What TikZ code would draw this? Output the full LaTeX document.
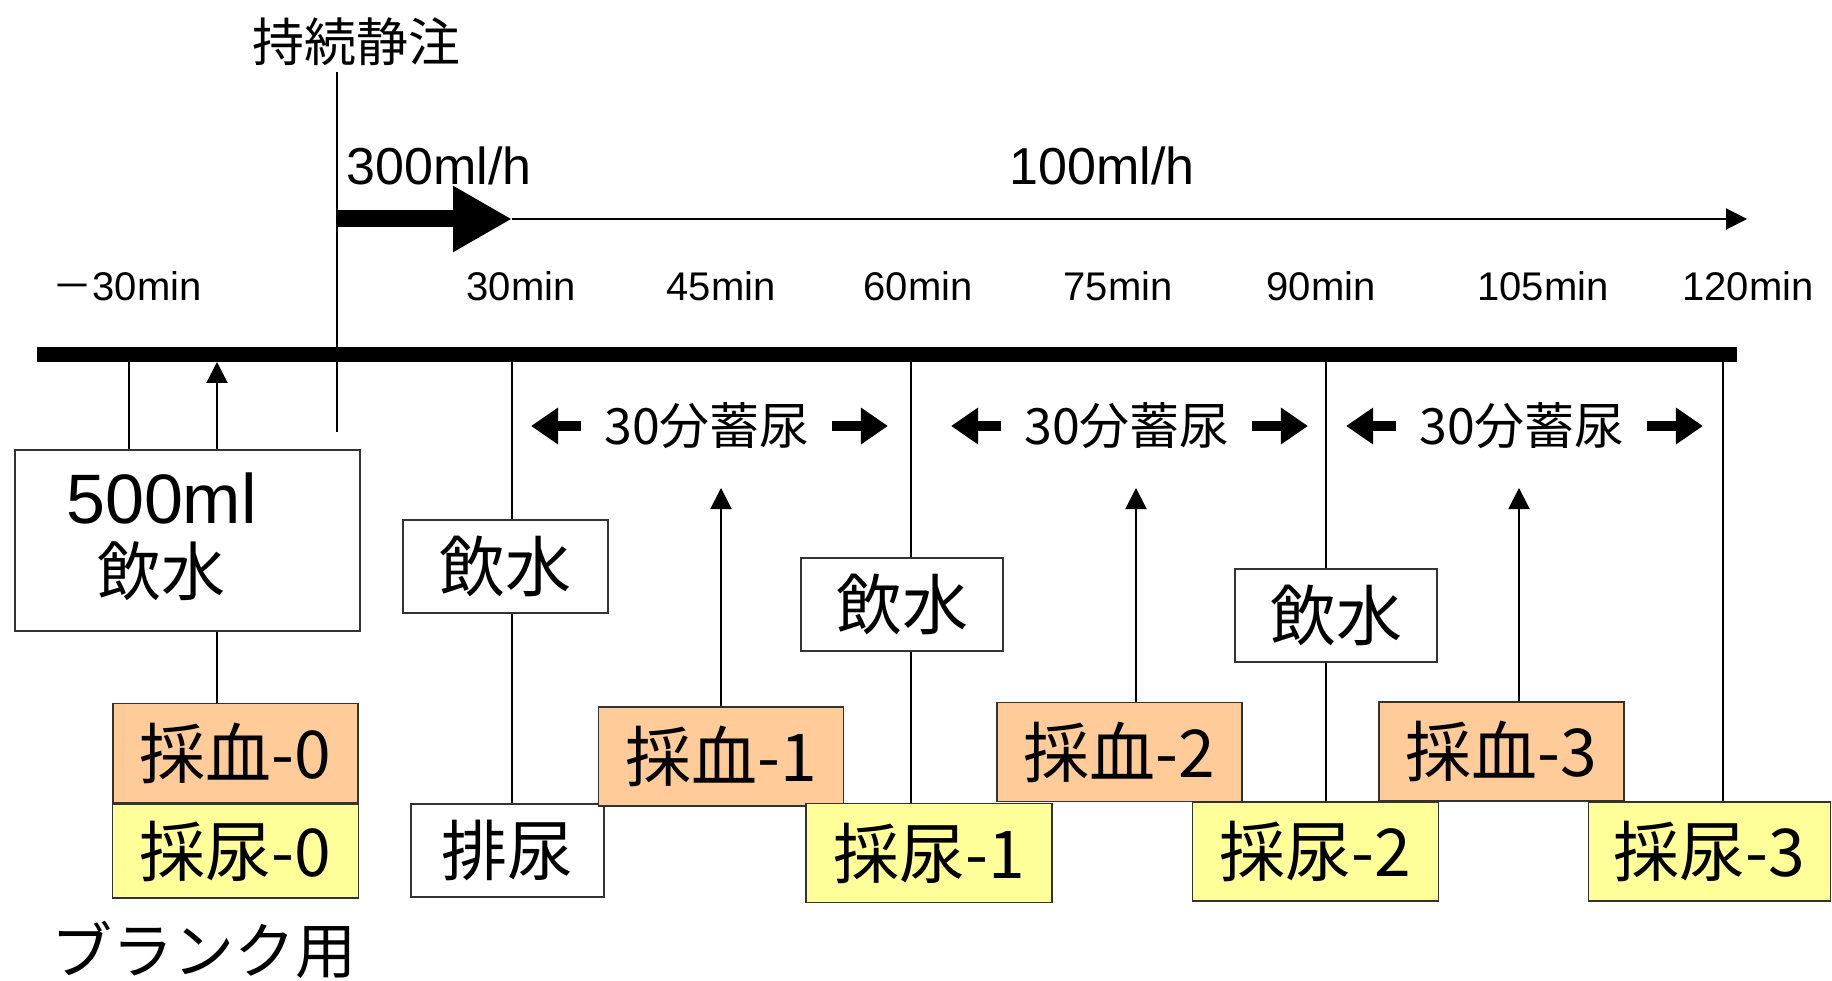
\documentclass[tikz,border=0pt]{standalone}
\usepackage{fontspec}
\setmainfont{Liberation Sans}
\newfontfamily\cjk{Noto Sans CJK JP}
\usetikzlibrary{arrows.meta,positioning}
\definecolor{ketsucol}{HTML}{FFCC99}
\definecolor{nyocol}{HTML}{FFFF99}
\tikzset{>={Triangle[length=21pt,width=21pt]},
  box/.style={draw=black!80, line width=1.8pt, fill=white, inner sep=0pt,
    minimum width=204pt, minimum height=93pt, font=\cjk\fontsize{66}{69}\selectfont},
  ketsu/.style={box, fill=ketsucol, minimum width=245pt, minimum height=99pt},
  nyo/.style={box, fill=nyocol, minimum width=246pt, minimum height=99pt},
  tline/.style={line width=2pt},
  blockarr/.style={line width=10pt, -{Triangle[length=27pt,width=35pt]}},
  tlabel/.style={font=\fontsize{40}{48}\selectfont},
  chiku/.style={inner sep=0pt, font=\cjk\fontsize{50}{60}\selectfont}}

\begin{document}
\begin{tikzpicture}[x=1pt,y=-1pt]
\useasboundingbox (0,0) rectangle (1832,981);
% time axis
\draw[line width=15pt] (37,355) -- (1737,355);
\node[tlabel] (tm30) at (127,286) {{\cjk －}30min};
\foreach \x/\t in {521/30min, 721/45min, 918/60min, 1118/75min, 1321/90min, 1543/105min, 1748/120min}
  \node[tlabel] at (\x,286) {\t};
\coordinate (b0) at (128.5,362);
\coordinate (a0) at (217,362);
\coordinate (t30) at (512,362);
\coordinate (t60) at (911,362);
\coordinate (t90) at (1326,362);
\coordinate (t120) at (1723,362);

% infusion
\node[font=\cjk\fontsize{52}{60}\selectfont] (jizoku) at (356,42) {持続静注};
\coordinate (injtop) at (336.5,72);
\coordinate (injbot) at (336.5,432);
\draw[tline] (injtop) -- (injbot);
\node[anchor=west, font=\fontsize{52}{60}\selectfont] (r300) at (343,166) {300ml/h};
\node[anchor=west, font=\fontsize{52}{60}\selectfont] (r100) at (1006,166) {100ml/h};
\draw[line width=17pt, -{Triangle[length=59pt,width=62pt]}] (injtop |- 0,219) -- (512,219) coordinate (inj30);
\draw[tline, ->] (inj30) -- (1747,219);

% boxes
\node[box, minimum width=345pt, minimum height=181pt] (mizu0) at (187.5,540.5) {};
\node[align=center, font=\cjk\fontsize{64}{72}\selectfont] (mizu0txt) at ([xshift=-26pt,yshift=4pt]mizu0.center)
  {{\rmfamily\fontsize{70}{72}\selectfont 500ml}\\飲水};
\node[ketsu] (ketsu0) at (235.5,753) {採血-0};
\node[nyo, minimum height=94pt, below=0pt of ketsu0] (nyo0) {採尿-0};
\node[font=\cjk\fontsize{61}{66}\selectfont] (blank) at (204,950) {ブランク用};
\node[box, minimum width=205pt] (mizu1) at (505.5,566.5) {飲水};
\node[box, minimum width=193pt] (hainyo) at (507.5,850.5) {排尿};
\node[ketsu] (ketsu1) at (721,756.5) {採血-1};
\node[box, minimum width=202pt] (mizu2) at (902,604.5) {飲水};
\node[nyo] (nyo1) at (929,853) {採尿-1};
\node[ketsu] (ketsu2) at (1119.5,752) {採血-2};
\node[box, minimum width=202pt] (mizu3) at (1336,615.5) {飲水};
\node[nyo] (nyo2) at (1315.5,851.5) {採尿-2};
\node[ketsu] (ketsu3) at (1501.5,751.5) {採血-3};
\node[nyo, minimum width=242pt] (nyo3) at (1709.5,851.5) {採尿-3};

% 30 min collection
\node[chiku] (chiku1) at (707,426) {30分蓄尿};
\node[chiku] (chiku2) at (1127,426) {30分蓄尿};
\node[chiku] (chiku3) at (1522,426) {30分蓄尿};
\foreach \n in {chiku1,chiku2,chiku3} {
  \draw[blockarr] ([xshift=-23pt]\n.west) -- ++(-50,0);
  \draw[blockarr] ([xshift=22pt]\n.east) -- ++(56,0);
}

% connectors
\draw[tline] (b0) -- (b0 |- mizu0.north);
\draw[tline, <-] (a0) -- (a0 |- mizu0.north);
\draw[tline] (a0 |- mizu0.south) -- (a0 |- ketsu0.north);
\draw[tline] (t30) -- (t30 |- mizu1.north) (t30 |- mizu1.south) -- (t30 |- hainyo.north);
\draw[tline] (t60) -- (t60 |- mizu2.north) (t60 |- mizu2.south) -- (t60 |- nyo1.north);
\draw[tline] (t90) -- (t90 |- mizu3.north) (t90 |- mizu3.south) -- (t90 |- nyo2.north);
\draw[tline] (t120) -- (t120 |- nyo3.north);
\coordinate (u1) at (721,488);
\coordinate (u2) at (1136,488);
\coordinate (u3) at (1519,488);
\draw[tline, ->] (u1 |- ketsu1.north) -- (u1);
\draw[tline, ->] (u2 |- ketsu2.north) -- (u2);
\draw[tline, ->] (u3 |- ketsu3.north) -- (u3);
\end{tikzpicture}
\end{document}
